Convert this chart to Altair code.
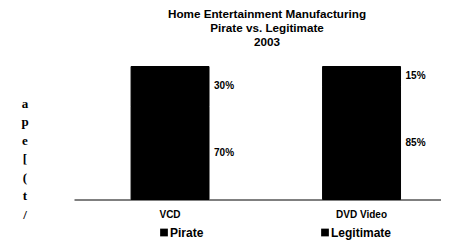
import altair as alt
import pandas as pd

# ---- data ----
formats = ["VCD", "VCD", "DVD Video", "DVD Video"]
types = ["Pirate", "Legitimate", "Pirate", "Legitimate"]
shares = [30, 70, 15, 85]
labels = ["30%", "70%", "15%", "85%"]
stack_rank = [1, 0, 1, 0]          # Legitimate at the bottom, Pirate on top
categories = ["VCD", "DVD Video"]
legend_order = ["Pirate", "Legitimate"]
title_lines = ["Home Entertainment Manufacturing", "Pirate vs. Legitimate", "2003"]
margin_fragments = ["a", "p", "e", "[", "(", "t", "/"]

df = pd.DataFrame({
    "format": formats,
    "type": types,
    "share": shares,
    "label": labels,
    "rank": stack_rank,
})

FONT = "Liberation Sans"

base = alt.Chart(df).transform_stack(
    stack="share",
    groupby=["format"],
    as_=["y0", "y1"],
    sort=[alt.SortField("rank", order="ascending")],
).transform_calculate(mid="(datum.y0 + datum.y1) / 2")

x_scale = alt.Scale(paddingInner=0.593, paddingOuter=0.2547, align=0.585)
y_scale = alt.Scale(domain=[0, 100])

bars = base.mark_bar(stroke="black", strokeWidth=1).encode(
    x=alt.X(
        "format:N",
        sort=categories,
        title=None,
        scale=x_scale,
        axis=alt.Axis(
            labelAngle=0,
            labelFont=FONT,
            labelFontSize=10,
            labelFontWeight="bold",
            labelColor="black",
            labelPadding=10,
            ticks=False,
            domainColor="black",
            domainWidth=1,
            grid=False,
        ),
    ),
    y=alt.Y("y0:Q", scale=y_scale, axis=None),
    y2="y1:Q",
    fill=alt.Fill(
        "type:N",
        sort=legend_order,
        scale=alt.Scale(domain=legend_order, range=["black", "black"]),
        legend=alt.Legend(
            title=None,
            orient="none",
            legendX=84,
            legendY=160,
            direction="horizontal",
            symbolType="square",
            symbolSize=60,
            symbolStrokeWidth=0,
            labelFont=FONT,
            labelFontSize=12,
            labelFontWeight="bold",
            labelColor="black",
            labelOffset=0,
            columnPadding=115,
        ),
    ),
)

pct = base.mark_text(
    align="left",
    baseline="middle",
    dx=44,
    font=FONT,
    fontSize=10,
    fontWeight="bold",
    color="black",
).encode(
    x=alt.X("format:N", sort=categories, scale=x_scale),
    y=alt.Y("mid:Q", scale=y_scale),
    text="label:N",
)

frag = alt.Chart(pd.DataFrame({"row": [0]})).mark_text(
    text=margin_fragments,
    lineHeight=18.5,
    align="center",
    baseline="middle",
    font="Liberation Serif",
    fontSize=13,
    fontWeight="bold",
    color="black",
).encode(x=alt.value(-49), y=alt.value(37))

chart = alt.layer(bars, pct, frag).properties(
    width=367,
    height=133,
    autosize="none",
    padding={"left": 66, "top": 58.5, "right": 0, "bottom": 40},
    title=alt.TitleParams(
        text=title_lines,
        font=FONT,
        fontSize=11.7,
        fontWeight="bold",
        color="black",
        anchor="middle",
        dx=9.5,
        offset=17,
        lineHeight=14,
    ),
).configure_view(stroke=None)

chart.save("out.html", embed_options={"renderer": "svg", "actions": False})
